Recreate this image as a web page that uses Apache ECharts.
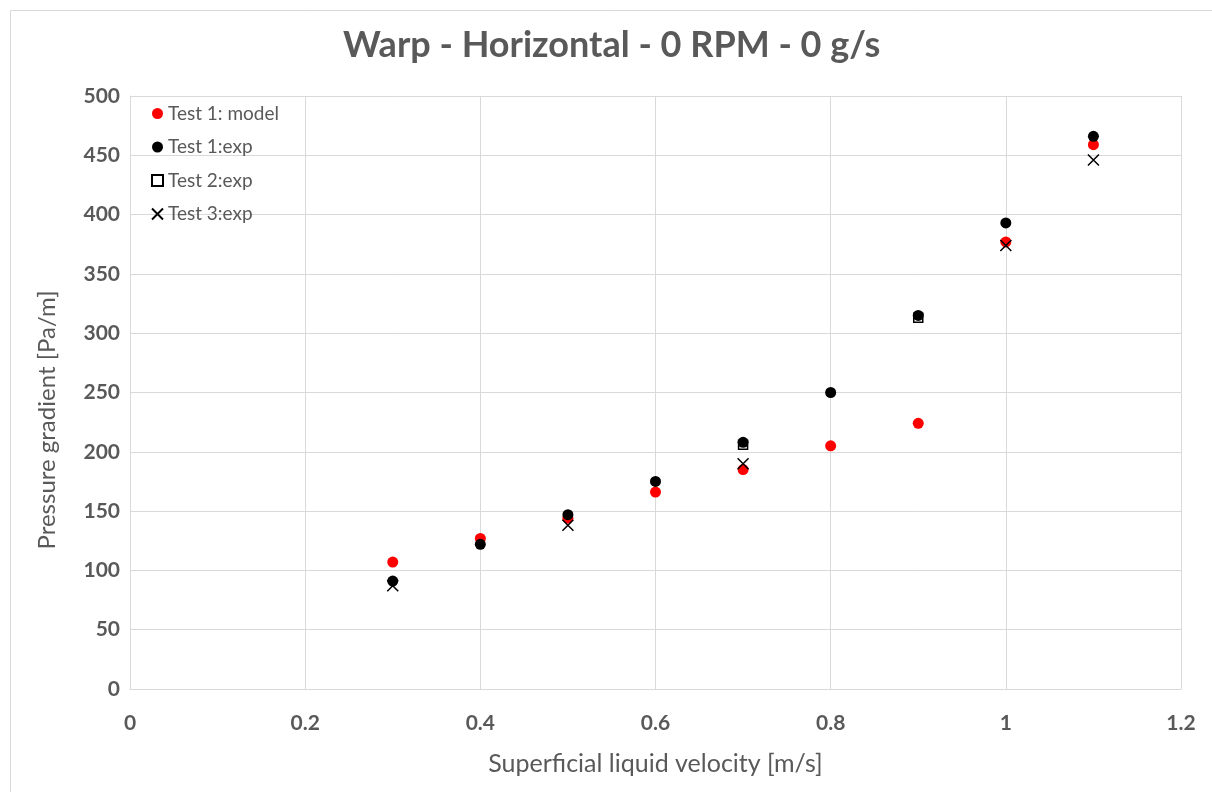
<!DOCTYPE html>
<html>
<head>
<meta charset="utf-8">
<script src="https://cdn.jsdelivr.net/npm/echarts@6/dist/echarts.min.js"></script>
<style>
html,body{margin:0;padding:0;background:#fff;}
#chart{width:1212px;height:792px;}
</style>
</head>
<body>
<div id="chart"></div>
<script>
const velocity = [0.3, 0.4, 0.5, 0.6, 0.7, 0.8, 0.9, 1.0, 1.1];
const test1Model = [107, 127, 144, 166, 185, 205, 224, 377, 459];
const test1Exp = [91, 122, 147, 175, 208, 250, 315, 393, 466];
// only the points that are visible in the picture ('-' = hidden / not read)
const test2Exp = ['-', '-', '-', '-', 206, '-', 313, '-', '-'];
const test3Exp = [87, '-', 138, '-', 190, '-', '-', 374, 446];
const xTicks = [0, 0.2, 0.4, 0.6, 0.8, 1, 1.2];
const yTicks = [0, 50, 100, 150, 200, 250, 300, 350, 400, 450, 500];

const pairs = arr => velocity.map((v, i) => [v, arr[i]]);
const FONT = 'Lato, "Open Sans", sans-serif';
const TXT = '#595959';
const X_PATH = 'path://M0,0L10,10M10,0L0,10';

const chart = echarts.init(document.getElementById('chart'));
chart.setOption({
  animation: false,
  backgroundColor: '#fff',
  graphic: [
    {
      type: 'rect', left: 8, top: 8,
      shape: {width: 1220, height: 800},
      style: {fill: 'none', stroke: '#d9d9d9', lineWidth: 1}
    },
    {
      type: 'text', x: 47, y: 420, rotation: Math.PI / 2,
      style: {
        text: 'Pressure gradient [Pa/m]', fill: TXT,
        font: 'normal 24px ' + FONT, align: 'center', verticalAlign: 'middle'
      }
    }
  ],
  title: {
    text: 'Warp - Horizontal - 0 RPM - 0 g/s',
    left: 338, top: 22,
    textStyle: {fontFamily: FONT, fontSize: 36, fontWeight: 'bold', color: TXT}
  },
  legend: {
    orient: 'vertical', left: 146, top: 99, itemGap: 14.5,
    itemWidth: 11, itemHeight: 11,
    textStyle: {fontFamily: FONT, fontSize: 19, color: TXT},
    data: [
      {name: 'Test 1: model'},
      {name: 'Test 1:exp'},
      {name: 'Test 2:exp'},
      {name: 'Test 3:exp'}
    ]
  },
  grid: {left: 130, right: 31, top: 96, bottom: 103},
  xAxis: {
    type: 'value', min: 0, max: 1.2, interval: 0.2,
    name: 'Superficial liquid velocity [m/s]', nameLocation: 'middle', nameGap: 62,
    nameTextStyle: {fontFamily: FONT, fontSize: 25, color: TXT},
    axisLine: {show: true, lineStyle: {color: '#d9d9d9'}},
    axisTick: {show: false},
    splitLine: {show: true, lineStyle: {color: '#d9d9d9'}},
    axisLabel: {
      fontFamily: FONT, fontSize: 21, fontWeight: 'bold', color: TXT, margin: 24,
      formatter: v => { const t = xTicks.find(k => Math.abs(k - v) < 1e-9); return t === undefined ? '' : String(t); }
    }
  },
  yAxis: {
    type: 'value', min: 0, max: 500, interval: 50,
    axisLine: {show: true, lineStyle: {color: '#d9d9d9'}},
    axisTick: {show: false},
    splitLine: {show: true, lineStyle: {color: '#d9d9d9'}},
    axisLabel: {
      fontFamily: FONT, fontSize: 21, fontWeight: 'bold', color: TXT, margin: 10,
      formatter: v => { const t = yTicks.find(k => Math.abs(k - v) < 1e-9); return t === undefined ? '' : String(t); }
    }
  },
  series: [
    {
      name: 'Test 1: model', type: 'scatter', symbol: 'circle', symbolSize: 11,
      itemStyle: {color: '#ff0000', opacity: 1}, data: pairs(test1Model)
    },
    {
      name: 'Test 1:exp', type: 'scatter', symbol: 'circle', symbolSize: 11,
      itemStyle: {color: '#000000', opacity: 1}, data: pairs(test1Exp)
    },
    {
      name: 'Test 2:exp', type: 'scatter', symbol: 'rect', symbolSize: 9,
      itemStyle: {color: 'rgba(0,0,0,0)', borderColor: '#000', borderWidth: 1.5, opacity: 1},
      data: pairs(test2Exp)
    },
    {
      name: 'Test 3:exp', type: 'scatter', symbol: X_PATH, symbolSize: 11,
      itemStyle: {color: 'rgba(0,0,0,0)', borderColor: '#000', borderWidth: 1.5, opacity: 1},
      data: pairs(test3Exp)
    }
  ]
});
</script>
</body>
</html>
